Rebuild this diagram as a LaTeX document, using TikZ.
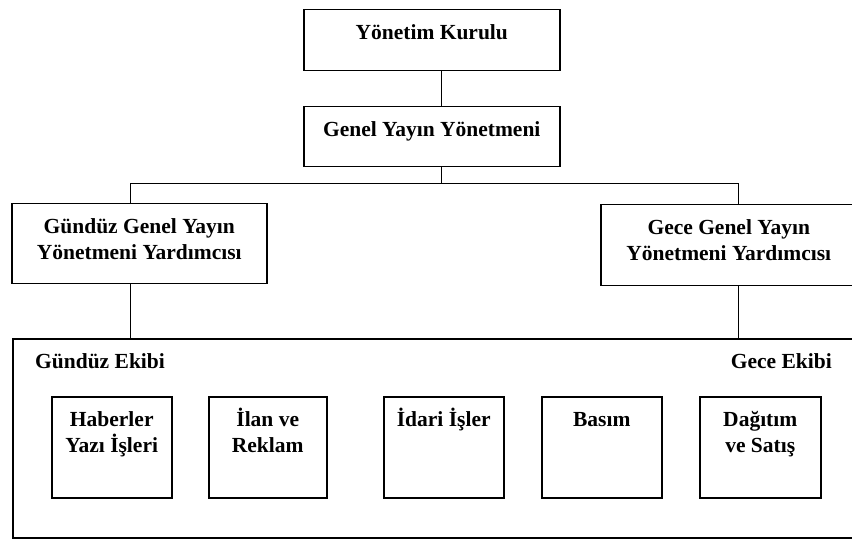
\documentclass[tikz,border=0pt]{standalone}
\usepackage{fontspec}
\setmainfont{Liberation Serif}
\usetikzlibrary{positioning}

% text in a fixed cell, first line at the top
\newcommand{\cell}[3]{\parbox[t][#2][t]{#1}{\centering\rule{0pt}{30pt}#3\par}}

\begin{document}
\begin{tikzpicture}[x=1pt, y=-1pt,
        every node/.style={font=\fontsize{21.5}{25.5}\selectfont\bfseries},
        box/.style={draw, line width=1.5pt, inner sep=0pt, anchor=north west},
        crew/.style={inner sep=0pt},
        link/.style={line width=1.1pt}
    ]
        \useasboundingbox (0,0) rectangle (852,540);

        \node[box] (board) at (303,9) {\cell{256pt}{61pt}{Yönetim Kurulu}};
        \node[box] (chief) at (303,106) {\cell{256pt}{60pt}{Genel Yayın Yönetmeni}};
        \node[box] (dayvice) at (11,203) {\cell{255pt}{80pt}{Gündüz Genel Yayın\\Yönetmeni Yardımcısı}};
        \node[box] (nightvice) at (600,204) {\cell{256pt}{81pt}{Gece Genel Yayın\\Yönetmeni Yardımcısı}};

        \node[box, minimum width=846pt, minimum height=199pt] (teams) at (12,338) {};
        \node[crew, anchor=base west] (daycrew) at (35,368) {Gündüz Ekibi};
        \node[crew, anchor=base east] (nightcrew) at (832,368) {Gece Ekibi};

        \foreach \x/\w/\name/\txt in {51/120/news/{Haberler\\Yazı İşleri},
                                       208/118/ads/{İlan ve\\Reklam},
                                       383/120/admin/{İdari İşler},
                                       541/120/press/{Basım},
                                       699/121/sales/{Dağıtım\\ve Satış}} {
            \node[box] (\name) at (\x,396) {\cell{\w pt}{101pt}{\txt}};
        }

        \draw[link] ([xshift=10pt]board.south) -- ([xshift=10pt]chief.north);
        \draw[link] ([xshift=10pt]chief.south) -- ++(0,16) coordinate (fork);
        \draw[link] ([xshift=-9pt]dayvice.north) |- (fork) -| ([xshift=10pt]nightvice.north);
        \draw[link] ([xshift=-9pt]dayvice.south) -- ([xshift=-9pt]dayvice.south |- teams.north);
        \draw[link] ([xshift=10pt]nightvice.south) -- ([xshift=10pt]nightvice.south |- teams.north);
    \end{tikzpicture}
\end{document}
